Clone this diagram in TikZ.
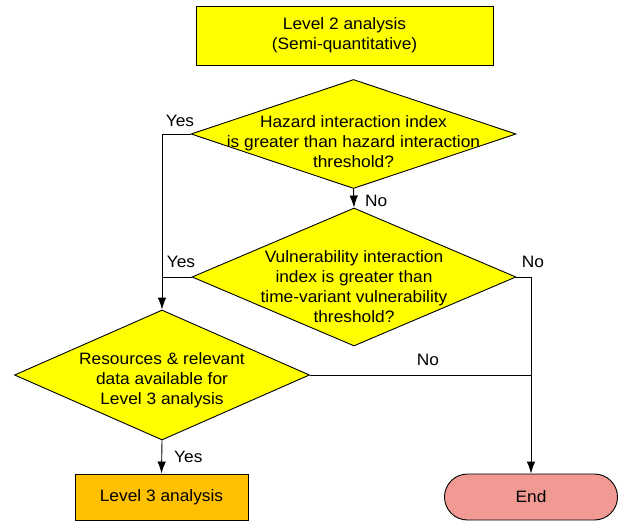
\documentclass[tikz,border=0pt]{standalone}
\usepackage{fontspec}
\setmainfont{Liberation Sans}[FakeStretch=1.05]
\usetikzlibrary{arrows.meta,calc,positioning,shapes.geometric}

\definecolor{boxyellow}{HTML}{FFFF00}
\definecolor{boxorange}{HTML}{FFC000}
\definecolor{endpink}{HTML}{F09A93}

\tikzset{
  flowbox/.style={draw,line width=0.9pt,fill=boxyellow,align=center},
  decision/.style={draw,line width=0.9pt,fill=boxyellow,diamond,inner sep=0pt},
  qtext/.style={align=center},
  flowline/.style={line width=0.9pt},
  flowarrow/.style={line width=0.9pt,-{Latex[length=12pt,width=8.5pt]}},
  answer/.style={inner sep=1pt}
}

\begin{document}
\begin{tikzpicture}[x=1pt,y=-1pt,font=\fontsize{16.5}{20}\selectfont]
  \useasboundingbox (0,0) rectangle (618,521);

  % top box
  \node[flowbox,minimum width=297pt,minimum height=59pt] (lvl2) at (344.5,35.5)
    {Level 2 analysis\\(Semi-quantitative)};

  % decisions
  \node[decision,minimum width=325pt,minimum height=109pt] (hazard) at (353.5,134) {};
  \node[qtext,yshift=-8pt] at (hazard) {Hazard interaction index\\is greater than hazard interaction\\threshold?};
  \node[decision,minimum width=324pt,minimum height=138pt] (vuln) at (354,277) {};
  \node[qtext,yshift=-10pt] at (vuln) {Vulnerability interaction\\index is greater than\\time-variant vulnerability\\threshold?};
  \node[decision,minimum width=295pt,minimum height=130pt] (res) at (162,375) {};
  \node[qtext,yshift=-5pt] at (res) {Resources \& relevant\\data available for\\Level 3 analysis};

  % outcomes
  \node[flowbox,fill=boxorange,minimum width=173pt,minimum height=46pt] (lvl3) at (161.5,497) {Level 3 analysis};
  \node[draw,line width=0.9pt,fill=endpink,rounded corners=23pt,minimum width=173pt,minimum height=46pt] (end) at (531,497) {End};

  % join points
  \coordinate (lj1) at (res.north |- hazard.west);
  \coordinate (lj2) at (res.north |- vuln.west);
  \coordinate (rj1) at (end.north |- vuln.east);
  \coordinate (rj2) at (end.north |- res.east);

  % connectors
  \draw[flowarrow] (hazard.south) -- (vuln.north) node[answer,midway,right=10pt,yshift=-3pt] {No};
  \draw[flowarrow] (hazard.west) -- (lj1) -- (res.north);
  \draw[flowline] (vuln.west) -- (lj2);
  \draw[flowarrow] (vuln.east) -- (rj1) -- (end.north);
  \draw[flowline] (res.east) -- (rj2);
  \draw[flowarrow] (res.south) -- (lvl3.north) node[answer,midway,right=11pt] {Yes};

  % labels
  \node[answer] at (180,121) {Yes};
  \node[answer] at (181,262) {Yes};
  \node[answer] at (533,262) {No};
  \node[answer] at (428,360) {No};
\end{tikzpicture}
\end{document}
